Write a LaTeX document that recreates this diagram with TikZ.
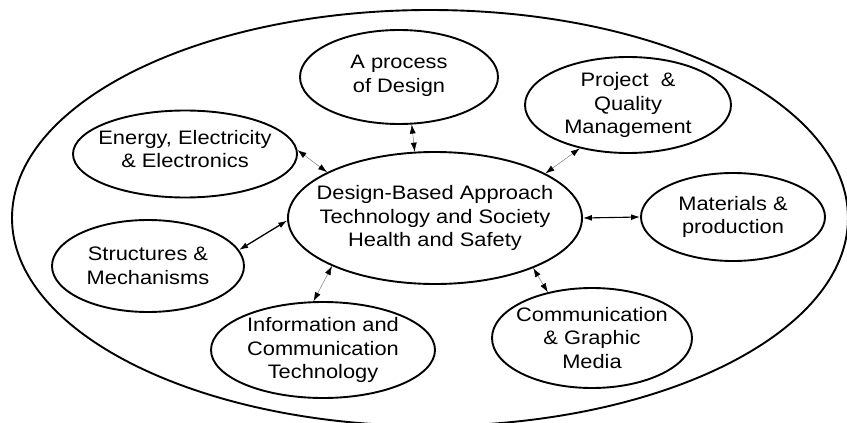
\documentclass[tikz,border=0pt]{standalone}
\usepackage{fontspec}
\setmainfont{Liberation Sans}[FakeStretch=1.12]
\usetikzlibrary{shapes.geometric, arrows.meta}

\tikzset{
	bubble/.style={ellipse, draw, line width=1.9pt, inner sep=0pt},
	txt/.style={align=center, font=\fontsize{19.5}{23.5}\selectfont},
	link/.style={draw=gray, line width=0.5pt,
		{Latex[black,length=9pt,width=6pt]}-{Latex[black,length=9pt,width=6pt]}},
	boldlink/.style={link, draw=black, line width=1.3pt}
}

\begin{document}
\begin{tikzpicture}[x=1pt,y=-1pt]
	\clip (0,0) rectangle (847,423);
	% outer frame
	\node[bubble, minimum width=836, minimum height=416] (frame) at (430,218) {};
	% centre
	\node[bubble, minimum width=294, minimum height=132] (dba) at (435,218) {};
	\node[txt] (dba-t) at (dba) {Design-Based Approach\\Technology and Society\\Health and Safety};
	% areas round it
	\node[bubble, minimum width=198, minimum height=94] (process) at (399,77) {};
	\node[txt] (process-t) at ([yshift=1pt]process) {A process\\of Design};
	\node[bubble, minimum width=206, minimum height=96] (project) at (628,105) {};
	\node[txt] (project-t) at (project) {Project\ \ \&\\Quality\\Management};
	\node[bubble, minimum width=224, minimum height=87] (energy) at (185,154) {};
	\node[txt] (energy-t) at ([yshift=5pt]energy) {Energy, Electricity\\\& Electronics};
	\node[bubble, minimum width=184, minimum height=88] (materials) at (733,217) {};
	\node[txt] (materials-t) at (materials) {Materials \&\\production};
	\node[bubble, minimum width=192, minimum height=92] (structures) at (148,266) {};
	\node[txt] (structures-t) at (structures) {Structures \&\\Mechanisms};
	\node[bubble, minimum width=224, minimum height=96] (ict) at (323,350) {};
	\node[txt] (ict-t) at (ict) {Information and\\Communication\\Technology};
	\node[bubble, minimum width=200, minimum height=100] (graphic) at (592,338) {};
	\node[txt] (graphic-t) at (graphic) {Communication\\\& Graphic\\Media};
	% links
	\draw[link] (process.-75) -- (dba.107);
	\draw[link] (energy.2) -- (dba.157);
	\draw[link] (project.222) -- (dba.22);
	\draw[boldlink, line width=1.1pt] (dba.east) -- (materials.west);
	\draw[boldlink] (structures.10) -- (dba.181);
	\draw[link] (ict.101) -- (dba.205);
	\draw[link] (graphic.134) -- (dba.333);
\end{tikzpicture}
\end{document}
